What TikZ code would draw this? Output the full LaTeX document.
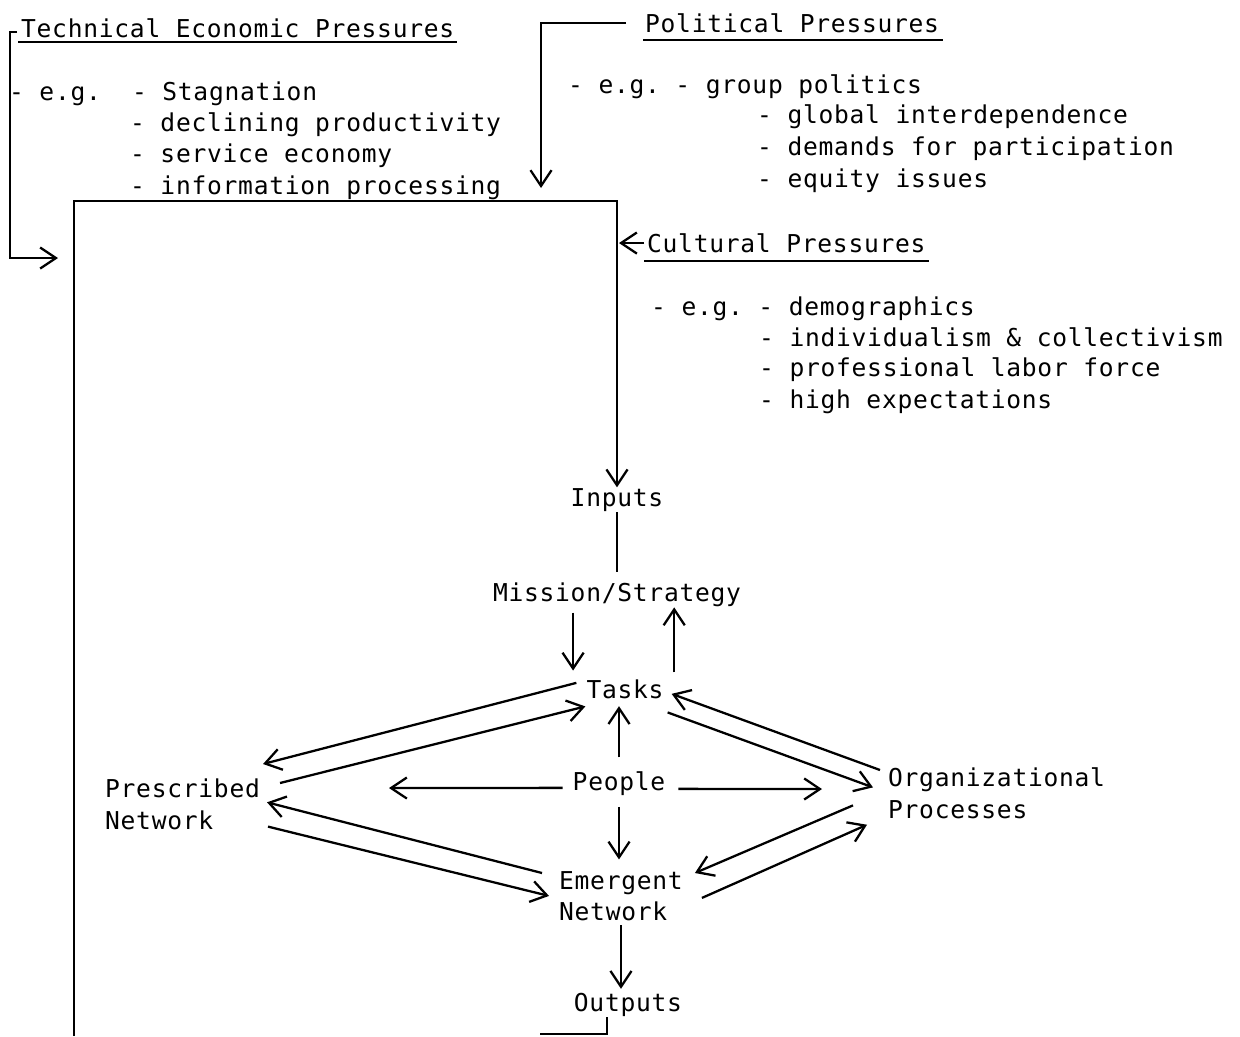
\documentclass[tikz,border=0pt]{standalone}
\usepackage{fontspec}
\newfontfamily\typewr[LetterSpace=3]{DejaVu Sans Mono}
\usetikzlibrary{arrows.meta}
\begin{document}
\begin{tikzpicture}[
      x=0.02cm, y=-0.02cm,
      line width=1.3pt,
      every node/.style={font=\typewr\fontsize{14}{17.8}\selectfont\frenchspacing, inner sep=0pt},
      lbl/.style={anchor=base, text height=10pt, text depth=3pt},
      twoline/.style={anchor=north west, align=left},
      txt/.style={anchor=base west},
      arr/.style={-{Straight Barb[length=9pt, width=12pt]}},
      ul/.style={line width=1.1pt}
    ]
      \useasboundingbox (0,0) rectangle (1240,1036);

      \node[txt] (techtitle) at (20,37) {Technical Economic Pressures};
      \node[txt] (tech1) at (8,100) {- e.g.\ \ - Stagnation};
      \node[txt] (tech2) at (129,131) {- declining productivity};
      \node[txt] (tech3) at (129,162) {- service economy};
      \node[txt] (tech4) at (129,194) {- information processing};

      \node[txt] (poltitle) at (644,32) {Political Pressures};
      \node[txt] (pol1) at (567,93) {- e.g. - group politics};
      \node[txt] (pol2) at (756,123) {- global interdependence};
      \node[txt] (pol3) at (756,155) {- demands for participation};
      \node[txt] (pol4) at (756,187) {- equity issues};

      \node[txt] (culttitle) at (646,252) {Cultural Pressures};
      \node[txt] (cult1) at (650,315) {- e.g. - demographics};
      \node[txt] (cult2) at (758,346) {- individualism \& collectivism};
      \node[txt] (cult3) at (758,376) {- professional labor force};
      \node[txt] (cult4) at (758,408) {- high expectations};

      \node[lbl] (inputs) at (617,506) {Inputs};
      \node[lbl] (mission) at (617,601) {Mission/Strategy};
      \node[lbl] (tasks) at (625,698) {Tasks};
      \node[lbl] (people) at (619,790) {People};
      \node[lbl] (outputs) at (628,1011) {Outputs};
      \node[twoline] (pres) at (104,778) {Prescribed\\Network};
      \node[twoline] (emer) at (558,870) {Emergent\\Network};
      \node[twoline] (org) at (887,767) {Organizational\\Processes};

      \coordinate (boxtl) at (74,201);
      \coordinate (boxbl) at (74,1036);
      \coordinate (boxbr) at (540,1034);
      \coordinate (techin) at (58,258);
      \coordinate (polin) at (541,188);
      \coordinate (cultin) at (619,243);
      \coordinate (pleft) at (389,788);
      \coordinate (pright) at (822,789);

      \draw[ul] ([shift={(-2,5)}]techtitle.base west) -- ([shift={(2,5)}]techtitle.base east);
      \draw[ul] ([shift={(-1,8)}]poltitle.base west) -- ([shift={(3,8)}]poltitle.base east);
      \draw[ul] ([shift={(-2,9)}]culttitle.base west) -- ([shift={(2,9)}]culttitle.base east);

      \draw[arr] ([shift={(-3,-5)}]techtitle.base west) -- ++(-7,0) |- (techin);
      \draw[arr] ([shift={(-18,-9)}]poltitle.base west) -| (polin);
      \draw[arr] ([shift={(-2,-9)}]culttitle.base west) -- (cultin);

      \draw[arr] (boxbl) -- (boxtl) -| (inputs.north);
      \draw ([xshift=-12]outputs.south) |- (boxbr);

      \draw[shorten >=6pt] (inputs.south) -- (inputs.south |- mission.north);
      \draw[arr, shorten <=3pt, shorten >=5pt] ([xshift=-25]mission.south) -- ([xshift=-25]mission.south |- tasks.north);
      \draw[arr, shorten <=4pt] ([xshift=28]tasks.north) -- ([xshift=28]tasks.north |- mission.south);
      \draw[arr, shorten <=8pt, shorten >=1pt] (people.north) -- (people.north |- tasks.south);
      \draw[arr, shorten <=6pt, shorten >=6pt] (people.south) -- (people.south |- emer.north);
      \draw[arr, shorten <=2pt, shorten >=2pt] (emer.south) -- (emer.south |- outputs.north);

      \draw[arr] ([shift={(-9,4)}]people.west) -- (pleft);
      \draw[arr] ([shift={(12,5)}]people.east) -- (pright);

      \draw[arr] ([shift={(-9,-9)}]tasks.west) -- ([shift={(2,-14)}]pres.north east);
      \draw[arr] ([shift={(19,5)}]pres.north east) -- ([shift={(0,2)}]tasks.south west);
      \draw[arr] ([shift={(-16,3)}]emer.north west) -- ([shift={(6,-2)}]pres.east);
      \draw[arr] ([shift={(7,-4)}]pres.south east) -- ([shift={(-9,0)}]emer.west);
      \draw[arr] ([shift={(-7,3)}]org.north west) -- ([shift={(7,2)}]tasks.east);
      \draw[arr] ([shift={(3,8)}]tasks.south east) -- ([shift={(-14,-6)}]org.west);
      \draw[arr] ([shift={(-34,12)}]org.west) -- ([shift={(11,3)}]emer.north east);
      \draw[arr] ([shift={(18,2)}]emer.east) -- ([shift={(-20,5)}]org.south west);
    \end{tikzpicture}
\end{document}
